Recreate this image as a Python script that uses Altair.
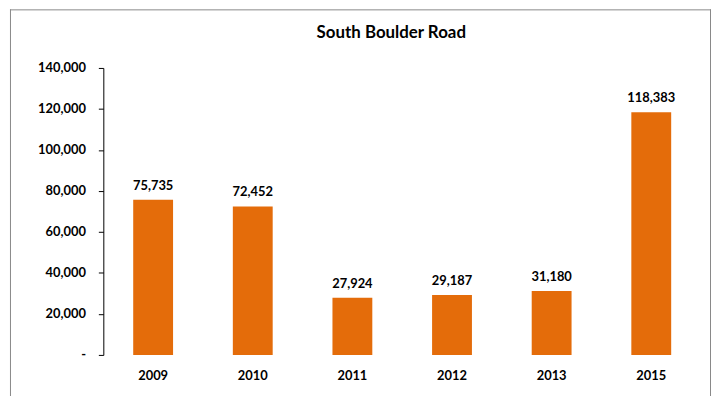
import altair as alt
import pandas as pd

years = ["2009", "2010", "2011", "2012", "2013", "2015"]
values = [75735, 72452, 27924, 29187, 31180, 118383]
title_text = "South Boulder Road"
y_ticks = [0, 20000, 40000, 60000, 80000, 100000, 120000, 140000]

df = pd.DataFrame({"year": years, "value": values})

FONT = "Lato"
ORANGE = "#E46C0A"

x_enc = alt.X(
    "year:N",
    sort=years,
    title=None,
    scale=alt.Scale(paddingInner=0.6, paddingOuter=0.3),
    axis=alt.Axis(
        domain=False,
        ticks=False,
        labelAngle=0,
        labelFont=FONT,
        labelFontSize=13,
        labelFontWeight="bold",
        labelColor="black",
        labelPadding=15,
    ),
)
y_enc = alt.Y(
    "value:Q",
    title=None,
    scale=alt.Scale(domain=[0, 140000], nice=False),
    axis=alt.Axis(
        values=y_ticks,
        grid=False,
        domainColor="black",
        tickColor="black",
        tickSize=5,
        labelFont=FONT,
        labelFontSize=13,
        labelFontWeight="bold",
        labelColor="black",
        labelPadding=13,
        labelExpr="datum.value == 0 ? '-' : format(datum.value, ',')",
    ),
)

bars = alt.Chart(df).mark_bar(color=ORANGE).encode(x=x_enc, y=y_enc)

labels = alt.Chart(df).mark_text(
    dy=-7,
    baseline="bottom",
    font=FONT,
    fontSize=13,
    fontWeight="bold",
    color="black",
).encode(x=alt.X("year:N", sort=years), y="value:Q", text=alt.Text("value:Q", format=","))

title_df = pd.DataFrame({"t": [title_text]})
title_mark = alt.Chart(title_df).mark_text(
    font=FONT, fontSize=17, fontWeight="bold", color="black",
    align="center", baseline="alphabetic",
).encode(x=alt.value(290), y=alt.value(-30), text="t:N")

frame_df = pd.DataFrame({"k": ["l", "r", "t"]})
left_line = alt.Chart(frame_df).transform_filter("datum.k == 'l'").mark_rule(color="#888888", strokeWidth=1).encode(
    x=alt.value(-93.5), y=alt.value(-59), y2=alt.value(345)
)
right_line = alt.Chart(frame_df).transform_filter("datum.k == 'r'").mark_rule(color="#888888", strokeWidth=1).encode(
    x=alt.value(611.5), y=alt.value(-59), y2=alt.value(345)
)
top_line = alt.Chart(frame_df).transform_filter("datum.k == 't'").mark_rule(color="#888888", strokeWidth=1).encode(
    x=alt.value(-94), x2=alt.value(612), y=alt.value(-58.5)
)

chart = alt.layer(bars, labels, title_mark, left_line, right_line, top_line).properties(
    width=602,
    height=289,
    autosize=alt.AutoSizeParams(type="none"),
    padding={"left": 96, "top": 59, "right": 10, "bottom": 40},
).configure_view(stroke=None)

chart.save("out.html", embed_options={"renderer": "svg", "actions": False})
